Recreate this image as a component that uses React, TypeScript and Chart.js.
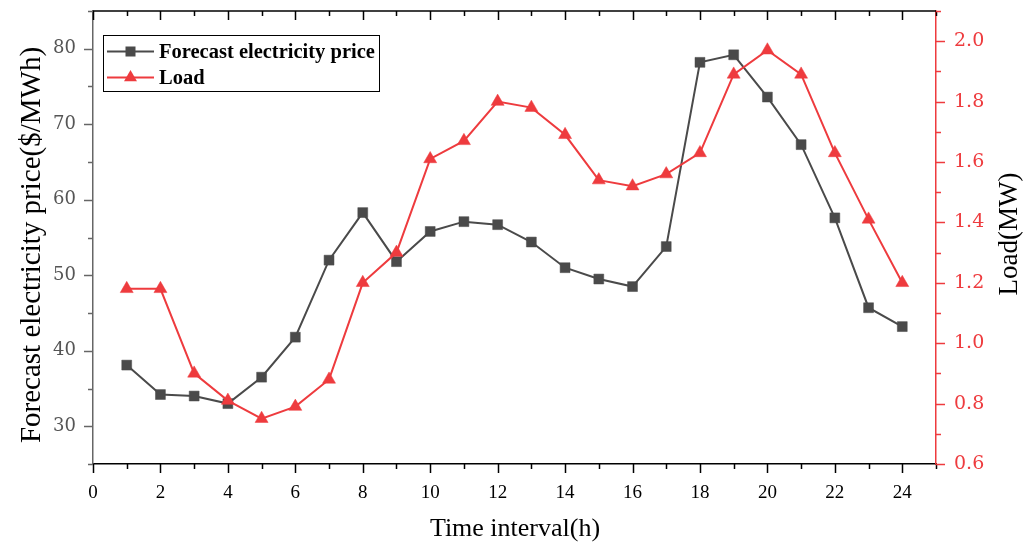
import React, { useEffect, useRef } from 'react';
import { Chart, registerables } from 'chart.js';

Chart.register(...registerables);

const hours = [1, 2, 3, 4, 5, 6, 7, 8, 9, 10, 11, 12, 13, 14, 15, 16, 17, 18, 19, 20, 21, 22, 23, 24];
const priceValues = [38.1, 34.2, 34.0, 33.0, 36.5, 41.8, 52.0, 58.3, 51.8, 55.8, 57.1, 56.7, 54.4, 51.0, 49.5, 48.5, 53.8, 78.2, 79.2, 73.6, 67.3, 57.6, 45.7, 43.2];
const loadValues = [1.18, 1.18, 0.90, 0.81, 0.75, 0.79, 0.88, 1.20, 1.30, 1.61, 1.67, 1.80, 1.78, 1.69, 1.54, 1.52, 1.56, 1.63, 1.89, 1.97, 1.89, 1.63, 1.41, 1.20];

const priceLabel = 'Forecast electricity price';
const loadLabel = 'Load';
const xTitle = 'Time interval(h)';
const yTitle = 'Forecast electricity price($/MWh)';
const y1Title = 'Load(MW)';

const PRICE_COLOR = '#4a4a4a';
const LOAD_COLOR = '#ee3b3e';

const zeroPad = (s: any) => {
  s.paddingTop = 0;
  s.paddingBottom = 0;
  s.paddingLeft = 0;
  s.paddingRight = 0;
};

const decorPlugin = {
  id: 'decor',
  afterDatasetsDraw(chart: any) {
    const { ctx, chartArea: a, scales } = chart;
    const x = scales.x;
    const y = scales.y;
    const y1 = scales.y1;
    ctx.save();
    // top frame line
    ctx.strokeStyle = '#000';
    ctx.lineWidth = 1.5;
    ctx.beginPath();
    ctx.moveTo(a.left, a.top);
    ctx.lineTo(a.right, a.top);
    ctx.stroke();

    // x ticks (bottom outward, top inward)
    x.ticks.forEach((t: any) => {
      const px = Math.round(x.getPixelForValue(t.value)) + 0.5;
      const major = t.value % 2 === 0;
      const len = major ? 9 : 5;
      ctx.strokeStyle = '#000';
      ctx.lineWidth = 1.5;
      ctx.beginPath();
      ctx.moveTo(px, a.bottom);
      ctx.lineTo(px, a.bottom + len);
      ctx.moveTo(px, a.top);
      ctx.lineTo(px, a.top + len);
      ctx.stroke();
    });
    // left ticks
    y.ticks.forEach((t: any) => {
      const py = Math.round(y.getPixelForValue(t.value)) + 0.5;
      const major = Math.round(t.value) % 10 === 0;
      const len = major ? 9 : 5;
      ctx.strokeStyle = '#666';
      ctx.lineWidth = 1.5;
      ctx.beginPath();
      ctx.moveTo(a.left, py);
      ctx.lineTo(a.left - len, py);
      ctx.stroke();
    });
    // right ticks
    y1.ticks.forEach((t: any) => {
      const py = Math.round(y1.getPixelForValue(t.value)) + 0.5;
      const major = Math.round(t.value * 10) % 2 === 0;
      const len = major ? 9 : 5;
      ctx.strokeStyle = LOAD_COLOR;
      ctx.lineWidth = 1.5;
      ctx.beginPath();
      ctx.moveTo(a.right, py);
      ctx.lineTo(a.right + len, py);
      ctx.stroke();
    });

    // legend
    const bx = 103.5, by = 35.5, bw = 276, bh = 56;
    ctx.fillStyle = '#fff';
    ctx.fillRect(bx, by, bw, bh);
    ctx.strokeStyle = '#000';
    ctx.lineWidth = 1;
    ctx.strokeRect(bx, by, bw, bh);
    const rows = [
      { label: priceLabel, color: PRICE_COLOR, y: 51.5, shape: 'rect' },
      { label: loadLabel, color: LOAD_COLOR, y: 77.5, shape: 'tri' },
    ];
    rows.forEach((r) => {
      ctx.strokeStyle = r.color;
      ctx.lineWidth = 2;
      ctx.beginPath();
      ctx.moveTo(107, r.y);
      ctx.lineTo(154, r.y);
      ctx.stroke();
      ctx.fillStyle = r.color;
      if (r.shape === 'rect') {
        ctx.fillRect(130.5 - 5, r.y - 5, 10, 10);
      } else {
        const rr = 7.5;
        ctx.beginPath();
        ctx.moveTo(130.5, r.y - rr);
        ctx.lineTo(130.5 + rr * 0.866, r.y + rr / 2);
        ctx.lineTo(130.5 - rr * 0.866, r.y + rr / 2);
        ctx.closePath();
        ctx.fill();
      }
      ctx.fillStyle = '#000';
      ctx.font = 'bold 20.5px "Liberation Serif"';
      ctx.textAlign = 'left';
      ctx.textBaseline = 'middle';
      ctx.fillText(r.label, 159, r.y + 1);
    });

    // axis titles
    ctx.fillStyle = '#000';
    ctx.textAlign = 'center';
    ctx.textBaseline = 'alphabetic';
    ctx.font = '26px "Liberation Serif"';
    ctx.fillText(xTitle, 515, 536);

    ctx.save();
    ctx.translate(40, 245);
    ctx.rotate(-Math.PI / 2);
    ctx.font = '29px "Liberation Serif"';
    ctx.fillText(yTitle, 0, 0);
    ctx.restore();

    ctx.save();
    ctx.translate(1017, 234);
    ctx.rotate(-Math.PI / 2);
    ctx.font = '27px "Liberation Serif"';
    ctx.fillText(y1Title, 0, 0);
    ctx.restore();

    ctx.restore();
  },
};

export default function App() {
  const ref = useRef<HTMLCanvasElement | null>(null);
  useEffect(() => {
    if (!ref.current) return;
    const chart = new Chart(ref.current, {
      type: 'line',
      data: {
        datasets: [
          {
            label: loadLabel,
            data: hours.map((h, i) => ({ x: h, y: loadValues[i] })),
            yAxisID: 'y1',
            borderColor: LOAD_COLOR,
            backgroundColor: LOAD_COLOR,
            borderWidth: 2,
            pointStyle: 'triangle',
            pointRadius: 7.5,
            pointBorderWidth: 0.5,
            pointBorderColor: LOAD_COLOR,
            tension: 0,
            order: 0,
          },
          {
            label: priceLabel,
            data: hours.map((h, i) => ({ x: h, y: priceValues[i] })),
            yAxisID: 'y',
            borderColor: PRICE_COLOR,
            backgroundColor: PRICE_COLOR,
            borderWidth: 2,
            pointStyle: 'rect',
            pointRadius: 7,
            pointBorderWidth: 0.5,
            pointBorderColor: PRICE_COLOR,
            tension: 0,
            order: 1,
          },
        ],
      },
      options: {
        responsive: false,
        animation: false,
        devicePixelRatio: 1,
        layout: { padding: { top: 11, left: 0, right: 0, bottom: 0 } },
        plugins: { legend: { display: false }, tooltip: { enabled: false } },
        scales: {
          x: {
            type: 'linear',
            position: 'bottom',
            min: 0,
            max: 25,
            afterFit: (s: any) => { s.height = 79; zeroPad(s); },
            grid: { display: true, drawOnChartArea: false, drawTicks: false, color: 'rgba(0,0,0,0)' },
            border: { display: true, color: '#000', width: 1.5 },
            ticks: {
              stepSize: 1,
              autoSkip: false,
              maxRotation: 0,
              padding: 18,
              color: '#000',
              font: { family: '"Liberation Serif"', size: 19 },
              callback: (v: any) => (Number(v) % 2 === 0 && Number(v) <= 24 ? String(v) : ''),
            },
          },
          y: {
            type: 'linear',
            position: 'left',
            min: 25,
            max: 85,
            afterFit: (s: any) => { s.width = 93; zeroPad(s); },
            grid: { display: true, drawOnChartArea: false, drawTicks: false, color: 'rgba(0,0,0,0)' },
            border: { display: true, color: '#666', width: 1.5 },
            ticks: {
              stepSize: 5,
              autoSkip: false,
              padding: 17,
              color: '#555',
              font: { family: '"DejaVu Serif"', size: 18 },
              callback: (v: any) => (Math.round(Number(v)) % 10 === 0 ? String(v) : ''),
            },
          },
          y1: {
            type: 'linear',
            position: 'right',
            min: 0.6,
            max: 2.1,
            afterFit: (s: any) => { s.width = 98; zeroPad(s); },
            grid: { display: true, drawOnChartArea: false, drawTicks: false, color: 'rgba(0,0,0,0)' },
            border: { display: true, color: LOAD_COLOR, width: 1.5 },
            ticks: {
              stepSize: 0.1,
              autoSkip: false,
              padding: 18,
              color: LOAD_COLOR,
              font: { family: '"DejaVu Serif"', size: 19 },
              callback: (v: any) => {
                const n = Math.round(Number(v) * 10);
                return n % 2 === 0 && n <= 20 ? (n / 10).toFixed(1) : '';
              },
            },
          },
        },
      },
      plugins: [decorPlugin],
    });
    return () => chart.destroy();
  }, []);
  return (
    <div style={{ position: 'fixed', left: 0, top: 0, width: 1034, height: 543, background: '#fff' }}>
      <canvas ref={ref} width={1034} height={543} style={{ width: 1034, height: 543, display: 'block' }} />
    </div>
  );
}
